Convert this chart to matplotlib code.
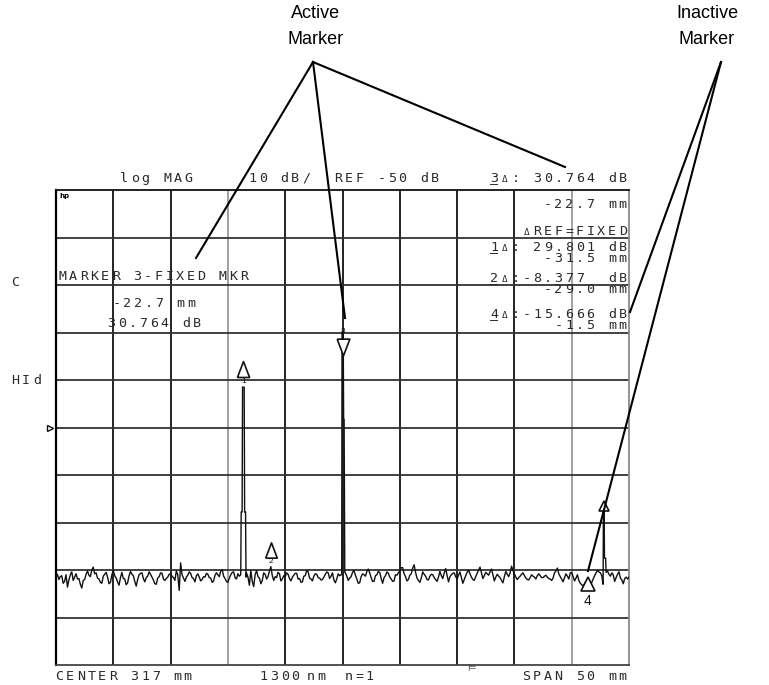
import numpy as np
import matplotlib
matplotlib.use("Agg")
import matplotlib.pyplot as plt
from matplotlib.lines import Line2D
from matplotlib.transforms import offset_copy

W, H = 769, 685

# sweep settings shown on the screen
start_mm, stop_mm = 292.0, 342.0      # CENTER 317 mm, SPAN 50 mm
ref_db, db_per_div = -50, 10

# noise floor of the trace (dB), uniform sweep
noise_db = [
    -81.6, -80.9, -82.0, -81.4, -81.2, -82.8, -82.4, -81.0, -83.6, -82.1,
    -81.0, -80.4, -82.2, -81.5, -80.8, -81.9, -81.8, -83.0, -83.8, -82.2,
    -82.0, -80.9, -80.2, -81.1, -81.4, -80.0, -79.4, -80.8, -80.6, -81.7,
    -81.9, -82.6, -82.8, -81.3, -80.9, -80.5, -81.5, -82.9, -82.6, -81.0,
    -80.1, -81.2, -81.7, -82.5, -83.2, -81.6, -80.5, -81.8, -81.9, -83.1,
    -82.7, -81.2, -80.3, -80.9, -81.2, -82.4, -83.4, -82.0, -81.0, -80.7,
    -80.6, -81.8, -82.5, -81.6, -81.3, -80.4, -80.9, -81.5, -82.1, -82.9,
    -83.0, -81.7, -81.4, -80.6, -80.7, -81.9, -82.2, -81.8, -81.5, -80.9,
    -80.8, -81.3, -81.6, -82.2, -80.2, -81.0, -84.3, -78.5, -81.0, -81.7,
    -82.4, -81.5, -81.1, -80.4, -80.7, -81.6, -81.8, -82.5, -81.2, -80.8,
    -81.5, -82.3, -82.0, -81.4, -81.5, -80.7, -80.9, -81.6, -81.7, -82.6,
    -82.3, -81.1, -80.6, -81.0, -81.4, -80.2, -79.9, -81.3, -81.8, -82.4,
    -82.6, -81.7, -81.0, -80.5, -80.4, -81.6, -81.9, -80.8, -81.3, -82.0,
    -82.6, -81.9, -81.2, -80.6, -81.5, -83.2, -80.1, -82.4, -83.5, -81.0,
    -80.1, -81.4, -81.7, -82.9, -82.2, -80.6, -80.9, -81.9, -81.4, -80.2,
    -79.3, -81.2, -82.2, -81.4, -81.6, -80.5, -80.8, -82.3, -81.9, -81.2,
    -81.4, -80.6, -80.9, -81.8, -82.3, -81.5, -81.1, -80.7, -80.7, -81.9,
    -81.8, -82.6, -82.5, -81.3, -81.2, -80.1, -80.4, -81.7, -81.9, -82.3,
    -81.3, -80.8, -80.9, -81.6, -81.7, -82.1, -82.0, -81.5, -80.9, -80.4,
    -80.6, -81.8, -81.3, -80.6, -82.1, -82.7, -81.9, -80.8, -81.2, -81.0,
    -81.0, -80.2, -80.6, -81.3, -82.2, -81.7, -81.4, -80.5, -80.1, -81.1,
    -81.9, -82.8, -82.7, -81.4, -80.8, -81.0, -81.3, -80.3, -79.8, -80.6,
    -81.6, -82.4, -82.4, -81.2, -81.0, -80.3, -80.5, -81.8, -82.8, -81.6,
    -81.2, -80.4, -80.7, -81.5, -81.9, -82.4, -82.3, -81.0, -81.1, -80.6,
    -80.2, -79.5, -79.5, -80.8, -81.4, -82.3, -82.0, -81.1, -80.8, -79.6,
    -78.9, -80.5, -81.7, -82.2, -82.6, -81.7, -80.4, -80.9, -81.3, -82.0,
    -82.1, -81.3, -80.9, -81.0, -81.6, -82.0, -82.4, -81.5, -80.3, -81.2,
    -81.8, -80.6, -79.7, -81.1, -82.5, -81.4, -81.0, -80.7, -80.6, -81.4,
    -81.9, -81.1, -80.4, -81.6, -82.8, -82.0, -81.2, -80.5, -80.0, -80.8,
    -81.5, -82.0, -82.2, -81.4, -80.7, -80.0, -79.4, -80.6, -81.8, -81.2,
    -80.5, -80.8, -81.1, -80.4, -79.8, -81.0, -82.3, -81.5, -80.9, -81.3,
    -81.6, -82.2, -82.7, -81.4, -80.3, -80.9, -81.4, -80.6, -79.2, -80.1,
    -80.8, -81.5, -82.0, -81.6, -81.3, -80.9, -80.6, -81.2, -81.7, -82.0,
    -82.1, -81.6, -81.0, -81.3, -81.5, -81.9, -81.2, -80.8, -81.2, -81.6,
    -81.6, -81.3, -81.1, -81.5, -81.8, -81.9, -82.2, -81.7, -80.6, -80.2,
    -79.6, -80.8, -81.4, -81.9, -82.5, -81.6, -80.8, -81.3, -81.9, -80.6,
    -80.5, -81.4, -82.3, -81.7, -81.0, -82.2, -82.8, -83.1, -83.4, -82.9,
    -82.4, -83.2, -84.0, -83.6, -82.6, -81.9, -81.2, -80.6, -80.1, -80.4,
    -80.6, -81.2, -80.3, -82.0, -81.8, -80.2, -80.9, -81.3, -80.6, -81.0,
    -82.4, -81.6, -80.9, -80.4, -81.7, -82.1, -82.9, -81.8, -81.5, -81.9,
    -81.5,
]

# narrow responses on the trace (position mm, level dB)
peak1_mm = [308.12, 308.16, 308.24, 308.28, 308.42, 308.46, 308.54, 308.58]
peak1_db = [-81.0, -67.8, -67.8, -41.5, -41.5, -67.8, -67.8, -81.5]
peak3_mm = [316.93, 316.96, 317.06, 317.10, 317.14, 317.20]
peak3_db = [-81.0, -29.9, -29.9, -48.3, -48.3, -80.5]
peakf_mm = [339.74, 339.77, 339.83, 339.86, 339.96, 340.00]
peakf_db = [-83.0, -65.9, -65.9, -77.5, -77.5, -80.5]

# markers
mkr_label = ["1", "2", "3", "4", ""]
mkr_mm = [308.35, 310.75, 317.01, 338.42, 339.80]
mkr_db = [-41.5, -79.3, -29.9, -83.0, -65.9]

# build trace
noise_mm = np.linspace(start_mm, stop_mm, len(noise_db))
pos = np.array(noise_mm)
lev = np.array(noise_db)
for pm, pd_ in [(peak1_mm, peak1_db), (peak3_mm, peak3_db), (peakf_mm, peakf_db)]:
    keep = (pos < pm[0]) | (pos > pm[-1])
    pos = np.concatenate([pos[keep], pm])
    lev = np.concatenate([lev[keep], pd_])
order = np.argsort(pos)
pos, lev = pos[order], lev[order]

fig = plt.figure(figsize=(W / 100, H / 100), dpi=100)
ax = fig.add_axes([56 / W, 1 - 665 / H, 573 / W, 475 / H])
ax.set_xlim(start_mm, stop_mm)
ax.set_ylim(ref_db - 5 * db_per_div, ref_db + 5 * db_per_div)
ax.set_xticks([])
ax.set_yticks([])

# graticule
for i in range(1, 10):
    x = start_mm + i * (stop_mm - start_mm) / 10
    c = "#9a9a9a" if i in (3, 9) else "#111111"
    ax.axvline(x, color=c, lw=1.3, zorder=1)
for i in range(1, 10):
    ax.axhline(ref_db - 50 + i * db_per_div, color="#333333", lw=1.3, zorder=1)
ax.spines["left"].set_color("#000000")
ax.spines["left"].set_linewidth(1.6)
ax.spines["top"].set_color("#111111")
ax.spines["top"].set_linewidth(1.3)
ax.spines["right"].set_color("#8a8a8a")
ax.spines["right"].set_linewidth(1.3)
ax.spines["bottom"].set_color("#444444")
ax.spines["bottom"].set_linewidth(1.3)

ax.plot(pos, lev, color="#111111", lw=1.0, zorder=3)

# marker symbols
tri_up = [(-0.38, -0.5), (0, 0.5), (0.38, -0.5), (-0.38, -0.5)]
tri_dn = [(-0.38, 0.5), (0, -0.5), (0.38, 0.5), (-0.38, 0.5)]
sym = [tri_up, tri_up, tri_dn, "^", "^"]
size = [11.5, 11, 12, 10, 7]
dy = [18, 17, -15, 0, -3]
lab_dy = [6, 5, 1, -17, 0]
lab_fs = [6, 6, 6, 10, 6]
for i in range(len(mkr_mm)):
    tr = offset_copy(ax.transData, fig=fig, x=0, y=dy[i], units="dots")
    ax.plot([mkr_mm[i]], [mkr_db[i]], marker=sym[i], ms=size[i], mfc="white",
            mec="#111111", mew=1.2, transform=tr, zorder=4, clip_on=False)
    if mkr_label[i]:
        tl = offset_copy(ax.transData, fig=fig, x=0, y=lab_dy[i], units="dots")
        ax.text(mkr_mm[i], mkr_db[i], mkr_label[i], transform=tl, ha="center",
                va="center", fontsize=lab_fs[i], color="#111111",
                family="Liberation Sans", zorder=5)

# reference position arrow on the left edge
tr = offset_copy(ax.transData, fig=fig, x=-6, y=0, units="dots")
ax.plot([start_mm], [ref_db], marker=">", ms=5, mfc="white", mec="#111111",
        mew=1.0, transform=tr, clip_on=False)

PITCH = 10.7


def screen_text(x, y, s, ha="left", ul=None, fs=9.6, color="#2a2a2a"):
    # fixed pitch text in screen pixels, y is the vertical centre
    if ha == "right":
        x = x - len(s) * PITCH
    base = 1 - (y + 4.8) / H
    for i, ch in enumerate(s):
        if ch == " ":
            continue
        cx = (x + (i + 0.5) * PITCH) / W
        f = fs * 0.7 if ch == "Δ" else fs
        fig.text(cx, base, ch, ha="center", va="baseline", fontsize=f,
                 family="DejaVu Sans Mono", color=color)
        if ul == i:
            fig.text(cx, base, "_", ha="center", va="baseline", fontsize=fs,
                     family="DejaVu Sans Mono", color=color)


# top annotation line
screen_text(119, 177, "log MAG")
screen_text(247, 177, "10 dB/")
screen_text(333, 177, "REF -50 dB")
screen_text(628, 177, "3Δ: 30.764 dB", ha="right", ul=0)

# marker readouts inside the graticule
screen_text(628, 203, "-22.7 mm", ha="right")
screen_text(628, 230, "ΔREF=FIXED", ha="right")
screen_text(628, 246, "1Δ: 29.801 dB", ha="right", ul=0)
screen_text(628, 257, "-31.5 mm", ha="right")
screen_text(628, 277, "2Δ:-8.377  dB", ha="right", ul=0)
screen_text(628, 288, "-29.0 mm", ha="right")
screen_text(628, 313, "4Δ:-15.666 dB", ha="right", ul=0)
screen_text(628, 324, "-1.5 mm", ha="right")

screen_text(57, 275, "MARKER 3-FIXED MKR")
screen_text(111, 302, "-22.7 mm")
screen_text(106, 322, "30.764 dB")

# bottom line
screen_text(54, 675, "CENTER 317 mm")
screen_text(258, 675, "1300")
screen_text(305, 675, "nm")
screen_text(343, 675, "n=1")
screen_text(628, 675, "SPAN 50 mm", ha="right")

# left side status
screen_text(10, 281, "C")
screen_text(10, 379, "HId")

fig.text(59 / W, 1 - 196 / H, "hp", fontsize=5, fontweight="bold",
         family="DejaVu Sans", va="center", ha="left")
fig.text(471 / W, 1 - 668 / H, "⊨", fontsize=7, family="DejaVu Sans",
         va="center", ha="center", color="#333333")

# callouts
fig.text(316 / W, 1 - 14 / H, "Active", fontsize=13, family="Liberation Sans",
         ha="center", va="center")
fig.text(316 / W, 1 - 39 / H, "Marker", fontsize=13, family="Liberation Sans",
         ha="center", va="center")
fig.text(707 / W, 1 - 14 / H, "Inactive", fontsize=13, family="Liberation Sans",
         ha="center", va="center")
fig.text(707 / W, 1 - 39 / H, "Marker", fontsize=13, family="Liberation Sans",
         ha="center", va="center")

apex_a = (313, 62)
apex_i = (721, 62)
for apex, end in [(apex_a, (196, 258)), (apex_a, (345, 318)), (apex_a, (565, 167)),
                  (apex_i, (630, 312)), (apex_i, (588, 571))]:
    fig.add_artist(Line2D([apex[0] / W, end[0] / W], [1 - apex[1] / H, 1 - end[1] / H],
                          transform=fig.transFigure, color="black", lw=1.5))

fig.savefig("out.png", dpi=100)
